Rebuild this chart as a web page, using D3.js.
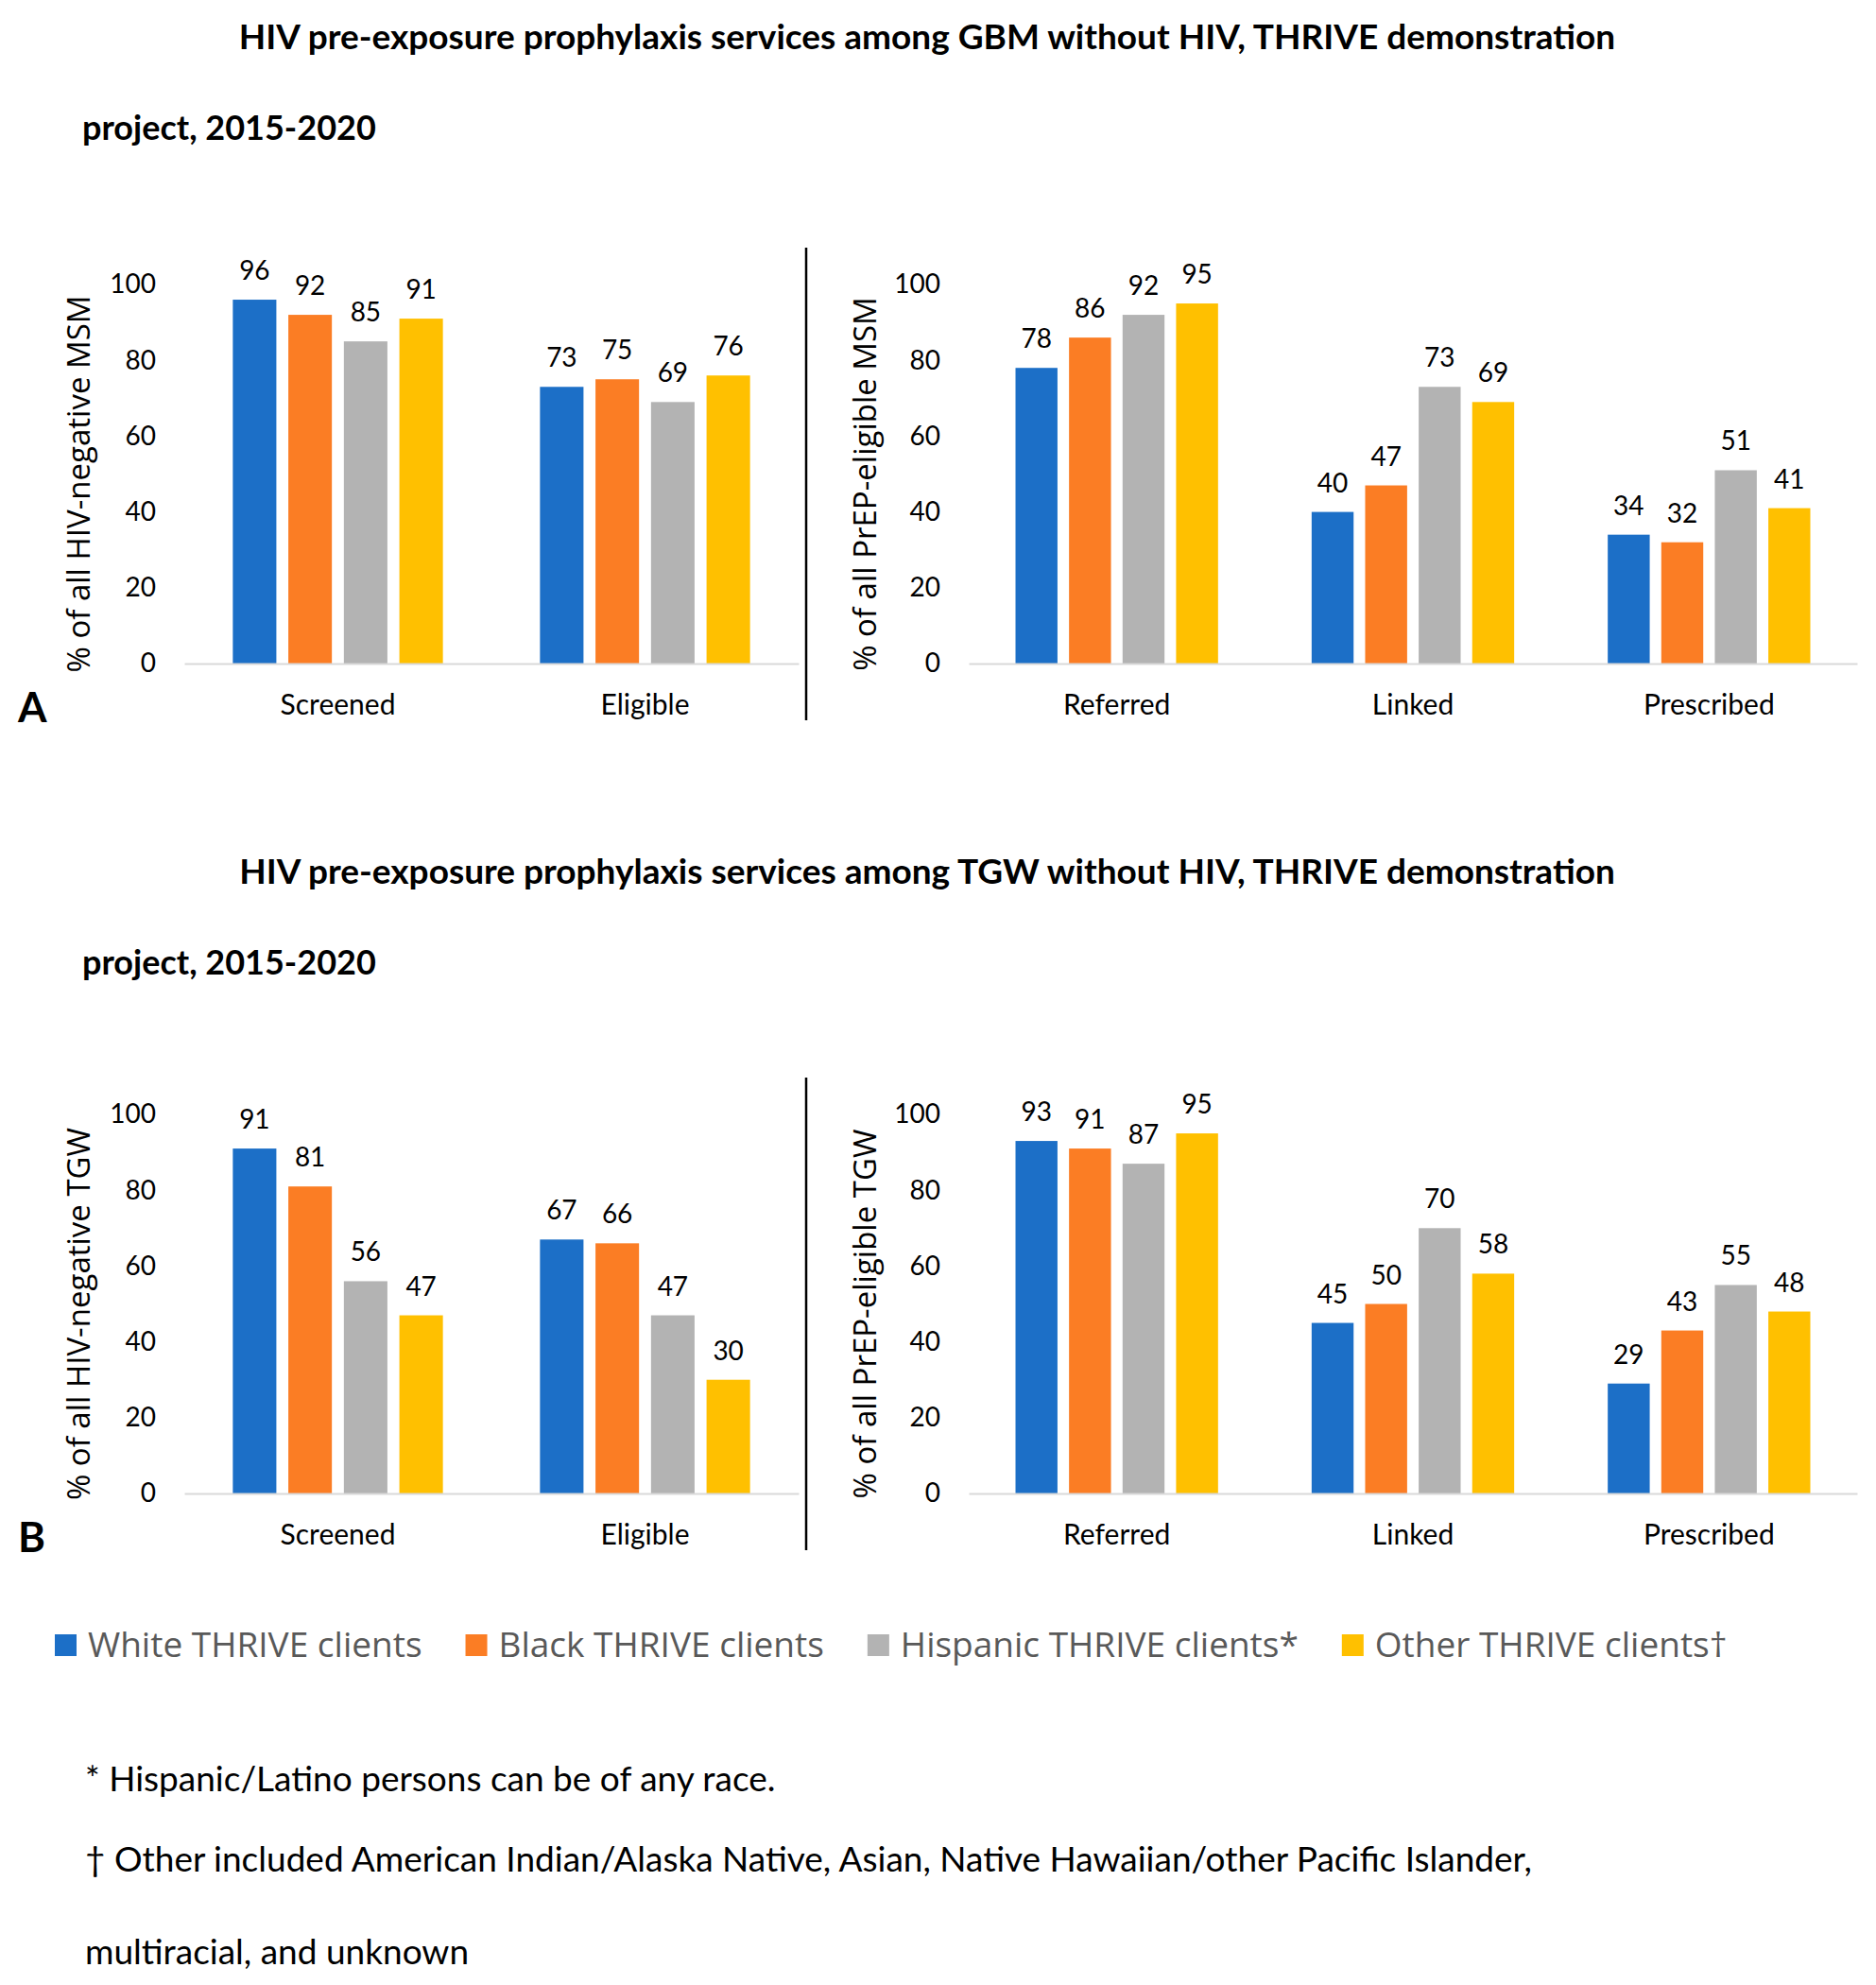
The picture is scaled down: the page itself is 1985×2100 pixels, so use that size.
<!DOCTYPE html>
<html><head><meta charset="utf-8">
<script src="https://cdn.jsdelivr.net/npm/d3@7"></script>
<style>body{margin:0;background:#fff}</style>
</head><body>
<svg id="c" width="1985" height="2100"></svg>
<script>
// ---------- data ----------
const seriesNames = ["White THRIVE clients", "Black THRIVE clients", "Hispanic THRIVE clients*", "Other THRIVE clients\u2020"];
const seriesColors = ["#1C6FC7", "#FB7D24", "#B3B3B3", "#FFC000"];
const yTicks = [0, 20, 40, 60, 80, 100];
const leftCategories = ["Screened", "Eligible"];
const rightCategories = ["Referred", "Linked", "Prescribed"];

// values per category, in series order: White, Black, Hispanic, Other
const gbmScreened   = [96, 92, 85, 91];
const gbmEligible   = [73, 75, 69, 76];
const gbmReferred   = [78, 86, 92, 95];
const gbmLinked     = [40, 47, 73, 69];
const gbmPrescribed = [34, 32, 51, 41];

const tgwScreened   = [91, 81, 56, 47];
const tgwEligible   = [67, 66, 47, 30];
const tgwReferred   = [93, 91, 87, 95];
const tgwLinked     = [45, 50, 70, 58];
const tgwPrescribed = [29, 43, 55, 48];

const titleA = "HIV pre-exposure prophylaxis services among GBM without HIV, THRIVE demonstration";
const titleB = "HIV pre-exposure prophylaxis services among TGW without HIV, THRIVE demonstration";
const titleLine2 = "project, 2015-2020";
const footnotes = [
  "* Hispanic/Latino persons can be of any race.",
  "\u2020 Other included American Indian/Alaska Native, Asian, Native Hawaiian/other Pacific Islander,",
  "multiracial, and unknown"
];

const panels = [
  { off: 0, tOff: 0, letter: "A", title: titleA,
    leftTitle: "% of all HIV-negative MSM", rightTitle: "% of all PrEP-eligible MSM",
    left: [gbmScreened, gbmEligible], right: [gbmReferred, gbmLinked, gbmPrescribed] },
  { off: 878, tOff: 883, letter: "B", title: titleB,
    leftTitle: "% of all HIV-negative TGW", rightTitle: "% of all PrEP-eligible TGW",
    left: [tgwScreened, tgwEligible], right: [tgwReferred, tgwLinked, tgwPrescribed] }
];

// ---------- layout ----------
const svg = d3.select("#c");
svg.append("rect").attr("width", 1985).attr("height", 2100).attr("fill", "#fff");

const CAL = "Lato, Carlito, Calibri, sans-serif";
const SEG = "'Open Sans', 'Segoe UI', sans-serif";

function drawChart(g, cats, vals, x0, x1, y, yTitle, yTitleX, off) {
  const x = d3.scaleBand().domain(cats).range([x0, x1]);
  const bw = x.bandwidth();
  const frac = 0.684;
  const xi = d3.scaleBand().domain(d3.range(4))
    .range([bw * (1 - frac) / 2, bw * (1 + frac) / 2]).paddingInner(0.216);

  const groups = g.selectAll("g.cat").data(cats).join("g")
    .attr("class", "cat")
    .attr("transform", d => `translate(${x(d)},0)`);

  groups.each(function(c, ci) {
    const gg = d3.select(this);
    const v = vals[ci];
    gg.selectAll("rect").data(v).join("rect")
      .attr("x", (d, i) => xi(i))
      .attr("width", xi.bandwidth())
      .attr("y", d => y(d))
      .attr("height", d => y(0) - y(d))
      .attr("fill", (d, i) => seriesColors[i]);
    gg.selectAll("text").data(v).join("text")
      .attr("x", (d, i) => xi(i) + xi.bandwidth() / 2)
      .attr("y", d => y(d) - 21)
      .attr("text-anchor", "middle")
      .attr("font-family", CAL).attr("font-size", 28).attr("fill", "#000")
      .text(d => d);
  });

  // y axis
  const ya = g.append("g").attr("transform", `translate(${x0},0)`)
    .call(d3.axisLeft(y).tickValues(yTicks).tickSize(0).tickPadding(30));
  ya.select(".domain").remove();
  ya.selectAll("text").attr("font-family", CAL).attr("font-size", 28).attr("fill", "#000");

  // x axis (baseline + category labels)
  const xa = g.append("g").attr("transform", `translate(0,${y(0)})`)
    .call(d3.axisBottom(x).tickSize(0).tickPadding(33));
  xa.select(".domain").attr("stroke", "#D9D9D9").attr("stroke-width", 2);
  xa.selectAll("text").attr("font-family", CAL).attr("font-size", 30).attr("fill", "#000");

  // y title
  g.append("text")
    .attr("transform", `translate(${yTitleX},${512 + off}) rotate(-90)`)
    .attr("text-anchor", "middle").attr("dy", "0.35em")
    .attr("font-family", SEG).attr("font-size", 33).attr("fill", "#000")
    .text(yTitle);
}

panels.forEach(p => {
  const off = p.off;
  const g = svg.append("g");
  g.append("text").attr("x", 981).attr("y", 52 + p.tOff)
    .attr("text-anchor", "middle").attr("font-family", CAL).attr("font-weight", "bold")
    .attr("font-size", 37).text(p.title);
  g.append("text").attr("x", 87).attr("y", 148 + p.tOff)
    .attr("font-family", CAL).attr("font-weight", "bold")
    .attr("font-size", 36).text(titleLine2);

  const y = d3.scaleLinear().domain([0, 100]).range([702 + off, 301 + off]);

  drawChart(g.append("g"), leftCategories, p.left, 195, 845, y, p.leftTitle, 83, off);
  drawChart(g.append("g"), rightCategories, p.right, 1025, 1965, y, p.rightTitle, 915, off);

  g.append("line").attr("x1", 853).attr("x2", 853)
    .attr("y1", 262 + off).attr("y2", 762 + off)
    .attr("stroke", "#000").attr("stroke-width", 2.5);

  g.append("text").attr("x", 19).attr("y", 764 + off)
    .attr("font-family", CAL).attr("font-weight", "bold").attr("font-size", 44)
    .text(p.letter);
});

// legend
const lg = svg.append("g");
let lx = 58;
seriesNames.forEach((name, i) => {
  lg.append("rect").attr("x", lx).attr("y", 1729).attr("width", 23).attr("height", 23)
    .attr("fill", seriesColors[i]);
  const t = lg.append("text").attr("x", lx + 35).attr("y", 1753)
    .attr("font-family", SEG).attr("font-size", 37).attr("fill", "#595959")
    .text(name);
  lx = lx + 35 + t.node().getComputedTextLength() + 46;
});

// footnotes
const fy = [1895, 1980, 2078];
svg.append("g").selectAll("text").data(footnotes).join("text")
  .attr("x", 90).attr("y", (d, i) => fy[i])
  .attr("font-family", CAL).attr("font-size", 37).attr("fill", "#000")
  .text(d => d);
</script></body></html>
